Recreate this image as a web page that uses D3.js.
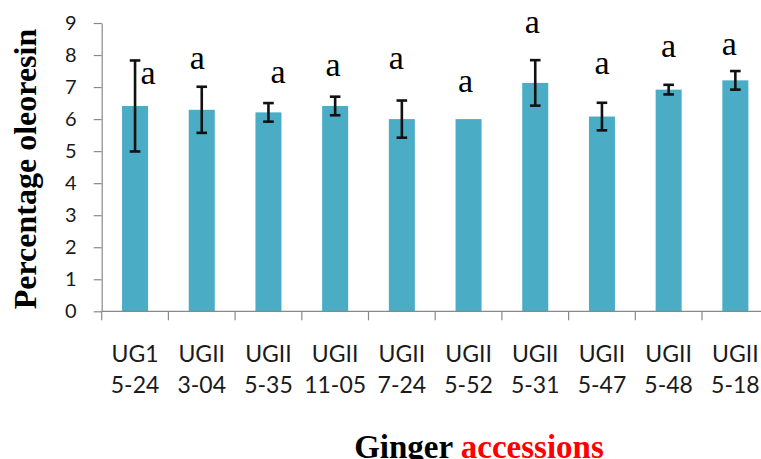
<!DOCTYPE html>
<html>
<head>
<meta charset="utf-8">
<script src="https://cdn.jsdelivr.net/npm/d3@7"></script>
<style>
  html, body { margin: 0; padding: 0; background: #fff; overflow: hidden; }
  svg { display: block; }
</style>
</head>
<body>
<svg id="chart" width="761" height="459"></svg>
<script>
// ---- data ----
const categoriesTop = ["UG1", "UGII", "UGII", "UGII", "UGII", "UGII", "UGII", "UGII", "UGII", "UGII"];
const categoriesBottom = ["5-24", "3-04", "5-35", "11-05", "7-24", "5-52", "5-31", "5-47", "5-48", "5-18"];
const meanValues = [6.41, 6.29, 6.21, 6.41, 6.0, 6.0, 7.13, 6.08, 6.92, 7.21];
const errorValues = [1.42, 0.72, 0.29, 0.29, 0.58, 0, 0.71, 0.43, 0.15, 0.29];
const letterLabels = ["a", "a", "a", "a", "a", "a", "a", "a", "a", "a"];
const letterHeights = [7.09, 7.56, 7.14, 7.35, 7.56, 6.85, 8.70, 7.40, 7.94, 8.0];
const yTicks = [0, 1, 2, 3, 4, 5, 6, 7, 8, 9];

// annotation horizontal nudges (px) as placed in the original
const letterNudge = [13, -4.5, 9.5, -2, -5.5, -3, -3, 0, 0, -6];

const svg = d3.select("#chart");
const ids = d3.range(categoriesTop.length);

const x = d3.scaleBand()
  .domain(ids)
  .range([101.7, 101.7 + 66.7 * ids.length])
  .paddingInner(0.61)
  .paddingOuter(0.305);

const y = d3.scaleLinear().domain([0, 9]).range([311.3, 23]);

const axisColor = "#898989";

// bars
svg.append("g").selectAll("rect")
  .data(ids)
  .join("rect")
  .attr("x", i => x(i))
  .attr("y", i => y(meanValues[i]))
  .attr("width", x.bandwidth())
  .attr("height", i => y(0) - y(meanValues[i]))
  .attr("fill", "#4BACC6");

// error bars
const eg = svg.append("g").attr("stroke", "#111").attr("stroke-width", 2.6).attr("fill", "none");
ids.filter(i => errorValues[i] > 0).forEach(i => {
  const cx = x(i) + x.bandwidth() / 2;
  const hi = y(meanValues[i] + errorValues[i]);
  const lo = y(meanValues[i] - errorValues[i]);
  eg.append("line").attr("x1", cx).attr("x2", cx).attr("y1", hi).attr("y2", lo);
  eg.append("line").attr("x1", cx - 5.3).attr("x2", cx + 5.3).attr("y1", hi).attr("y2", hi);
  eg.append("line").attr("x1", cx - 5.3).attr("x2", cx + 5.3).attr("y1", lo).attr("y2", lo);
});

// significance letters
svg.append("g").selectAll("text")
  .data(ids)
  .join("text")
  .attr("x", i => x(i) + x.bandwidth() / 2 + letterNudge[i])
  .attr("y", i => y(letterHeights[i]))
  .attr("text-anchor", "middle")
  .attr("font-family", "'Liberation Serif', 'Times New Roman', serif")
  .attr("font-size", 34)
  .attr("fill", "#000")
  .text(i => letterLabels[i]);

// y axis
const yAxis = svg.append("g")
  .attr("transform", `translate(${x.range()[0]},0)`)
  .call(d3.axisLeft(y).tickValues(yTicks).tickSize(8).tickPadding(17).tickSizeOuter(0));
yAxis.select(".domain").attr("stroke", axisColor).attr("stroke-width", 1.2);
yAxis.selectAll(".tick line").attr("stroke", axisColor).attr("stroke-width", 1.2);
yAxis.selectAll(".tick text")
  .attr("font-family", "Lato, 'Open Sans', sans-serif")
  .attr("font-size", 20)
  .attr("fill", "#1a1a1a");

// x axis line and ticks at band boundaries
const xg = svg.append("g");
xg.append("line")
  .attr("x1", x.range()[0]).attr("x2", x.range()[1])
  .attr("y1", y(0)).attr("y2", y(0))
  .attr("stroke", axisColor).attr("stroke-width", 1.2);
xg.selectAll("line.tk")
  .data(d3.range(ids.length + 1))
  .join("line")
  .attr("class", "tk")
  .attr("x1", k => x.range()[0] + x.step() * k)
  .attr("x2", k => x.range()[0] + x.step() * k)
  .attr("y1", y(0)).attr("y2", y(0) + 9)
  .attr("stroke", axisColor).attr("stroke-width", 1.2);

const lab = xg.selectAll("text.cat")
  .data(ids)
  .join("text")
  .attr("class", "cat")
  .attr("text-anchor", "middle")
  .attr("font-family", "Lato, 'Open Sans', sans-serif")
  .attr("font-size", 23)
  .attr("fill", "#1a1a1a");
lab.append("tspan")
  .attr("x", i => x(i) + x.bandwidth() / 2)
  .attr("y", 362)
  .text(i => categoriesTop[i]);
lab.append("tspan")
  .attr("x", i => x(i) + x.bandwidth() / 2)
  .attr("y", 393)
  .text(i => categoriesBottom[i]);

// y axis title
svg.append("text")
  .attr("transform", "translate(36,169) rotate(-90)")
  .attr("text-anchor", "middle")
  .attr("font-family", "'Liberation Serif', 'Times New Roman', serif")
  .attr("font-weight", "bold")
  .attr("font-size", 32)
  .attr("fill", "#000")
  .text("Percentage oleoresin");

// x axis title
const xt = svg.append("text")
  .attr("x", 479)
  .attr("y", 458)
  .attr("text-anchor", "middle")
  .attr("font-family", "'Liberation Serif', 'Times New Roman', serif")
  .attr("font-weight", "bold")
  .attr("font-size", 33);
xt.append("tspan").attr("fill", "#000").text("Ginger ");
xt.append("tspan").attr("fill", "#ff0000").text("accessions");
</script>
</body>
</html>
